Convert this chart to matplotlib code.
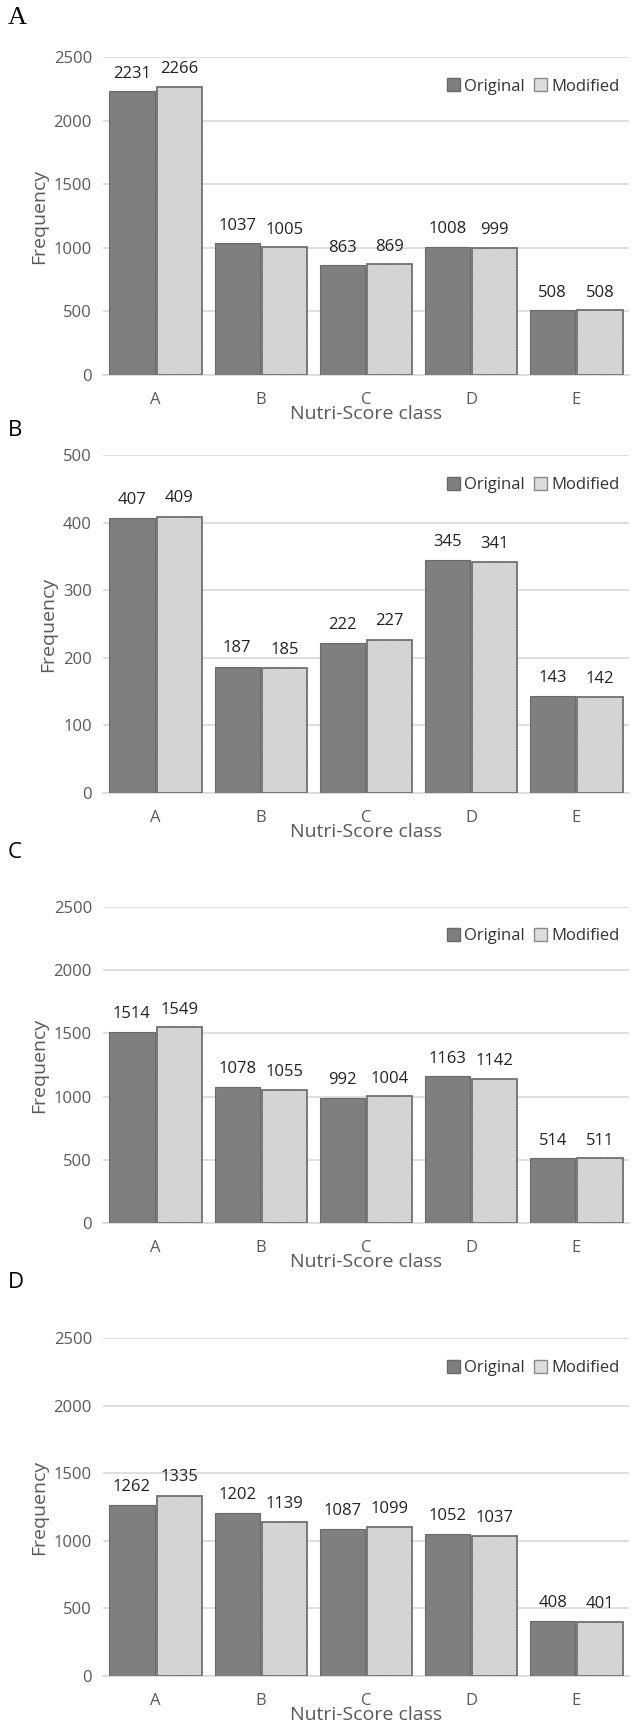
import numpy as np
import matplotlib.pyplot as plt

plt.rcParams['font.family'] = ['Open Sans', 'DejaVu Sans']
plt.rcParams['hatch.linewidth'] = 0.4

classes = ['A', 'B', 'C', 'D', 'E']
orig_A = [2231, 1037, 863, 1008, 508]
mod_A = [2266, 1005, 869, 999, 508]
orig_B = [407, 187, 222, 345, 143]
mod_B = [409, 185, 227, 341, 142]
orig_C = [1514, 1078, 992, 1163, 514]
mod_C = [1549, 1055, 1004, 1142, 511]
orig_D = [1262, 1202, 1087, 1052, 408]
mod_D = [1335, 1139, 1099, 1037, 401]

panels = [
    # letter, orig, mod, ymax, step, top px, bottom px, letter y px
    ('A', orig_A, mod_A, 2500, 500, 57, 375, 18),
    ('B', orig_B, mod_B, 500, 100, 455, 793, 430),
    ('C', orig_C, mod_C, 2500, 500, 907, 1223, 852),
    ('D', orig_D, mod_D, 2500, 500, 1338, 1676, 1283),
]

W, H = 637, 1730
fig = plt.figure(figsize=(W / 100, H / 100), dpi=100)
dark = '#7f7f7f'
light = '#dcdcdc'
txt = '#595959'

x = np.arange(len(classes))
bw = 0.43
for letter, o, m, ymax, step, top, bot, ly in panels:
    left, right = 103, 629
    ax = fig.add_axes([left / W, 1 - bot / H, (right - left) / W, (bot - top) / H])
    ax.bar(x - 0.225, o, bw, color=dark, edgecolor='#6a6a6a', linewidth=0.8, zorder=3)
    ax.bar(x + 0.225, m, bw, color=light, edgecolor='#bdbdbd', hatch='//////////',
           linewidth=0, zorder=3)
    ax.bar(x + 0.225, m, bw, color='none', edgecolor='#707070', linewidth=1.3, zorder=4)
    for xi, v in zip(x - 0.225, o):
        ax.text(xi, v + ymax * 0.03, str(v), ha='center', va='bottom', fontsize=12,
                color='#222222')
    for xi, v in zip(x + 0.225, m):
        ax.text(xi, v + ymax * 0.03, str(v), ha='center', va='bottom', fontsize=12,
                color='#222222')
    ax.set_xlim(-0.5, 4.5)
    ax.set_ylim(0, ymax)
    ax.set_yticks(np.arange(0, ymax + 1, step))
    ax.set_xticks(x)
    ax.set_xticklabels(classes)
    ax.tick_params(length=0, labelsize=12, colors=txt, pad=8)
    ax.tick_params(axis='x', pad=12)
    ax.grid(axis='y', color='#d9d9d9', linewidth=1.2, zorder=0)
    for s in ['top', 'right', 'left']:
        ax.spines[s].set_visible(False)
    ax.spines['bottom'].set_color('#d9d9d9')
    ax.spines['bottom'].set_linewidth(1.2)
    ax.set_xlabel('Nutri-Score class', fontsize=14, color=txt, labelpad=-2)
    ax.set_ylabel('Frequency', fontsize=14, color=txt, labelpad=4)
    hl = [plt.Rectangle((0, 0), 1, 1, facecolor=dark, edgecolor='#6a6a6a'),
          plt.Rectangle((0, 0), 1, 1, facecolor=light, edgecolor='#8a8a8a')]
    ax.legend(hl, ['Original', 'Modified'], loc='upper right', ncol=2, frameon=False,
              fontsize=12, handlelength=0.8, handleheight=0.8, handletextpad=0.25,
              columnspacing=0.5, bbox_to_anchor=(1.01, 0.98), labelcolor='#333333')
    if letter == 'A':
        fig.text(8 / W, 1 - ly / H, letter, fontsize=19, family='Liberation Serif',
                 va='center', ha='left')
    else:
        fig.text(8 / W, 1 - ly / H, letter, fontsize=16, va='center', ha='left')

fig.savefig('out.png', dpi=100, facecolor='white')
